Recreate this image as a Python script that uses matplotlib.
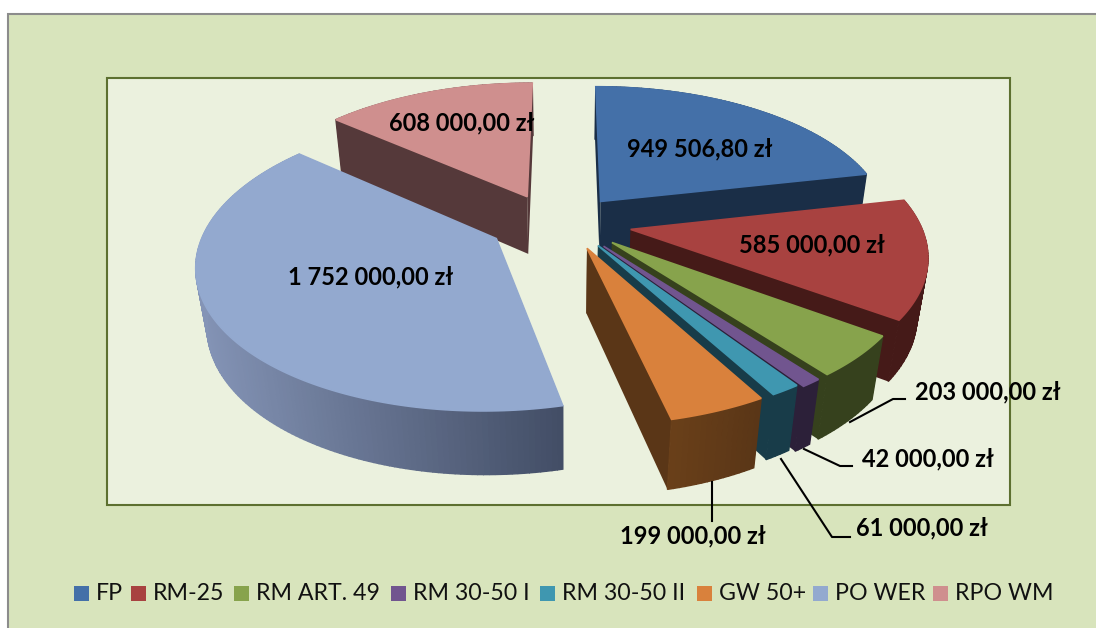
import numpy as np
import matplotlib
matplotlib.use('Agg')
import matplotlib.pyplot as plt
from matplotlib.patches import Polygon, Rectangle

plt.rcParams['font.family'] = ['Lato', 'DejaVu Sans']

categories = ['FP', 'RM-25', 'RM ART. 49', 'RM 30-50 I', 'RM 30-50 II', 'GW 50+', 'PO WER', 'RPO WM']
values = [949506.80, 585000.00, 203000.00, 42000.00, 61000.00, 199000.00, 1752000.00, 608000.00]
value_labels = ['949 506,80 zł', '585 000,00 zł', '203 000,00 zł', '42 000,00 zł',
                '61 000,00 zł', '199 000,00 zł', '1 752 000,00 zł', '608 000,00 zł']

top_colors = ['#4470a8', '#a84240', '#87a34c', '#71558f', '#3f97b0', '#d9813c', '#93a9cf', '#cf8f8e']
wall_left = ['#1a2e47', '#451a18', '#36411d', '#2c2039', '#183c49', '#6a4019', '#8494b6', '#55393a']
wall_right = ['#1a2e47', '#451a18', '#36411d', '#2c2039', '#183c49', '#5a3617', '#434e66', '#55393a']
explode = [0.19, 0.23, 0.22, 0.22, 0.21, 0.19, 0.25, 0.28]
# small per slice corrections on top of the explode
nudge_u = [0.007, 0.0, 0.0, 0.0, 0.0, 0.005, -0.02, -0.017]
nudge_v = [0.025, 0.015, 0.03, 0.03, 0.035, 0.015, 0.035, -0.045]
depth = [1.0, 1.0, 1.03, 1.03, 1.03, 1.1, 1.0, 1.0]

# back to front
draw_order = [0, 7, 1, 6, 2, 3, 4, 5]

label_pos = [(700, 149), (812, 245), (988, 392), (928, 459), (922, 528), (693, 536), (371, 277), (462, 123)]
leaders = {
    2: [(850, 422), (893, 399), (905, 399)],
    3: [(804, 449), (840, 466), (852, 466)],
    4: [(781, 459), (832, 537), (850, 537)],
    5: [(712, 482), (712, 521)],
}
legend_x = [74, 131, 234, 391, 540, 697, 813, 933]

CX, CY, A, B, H = 565, 225, 290, 140, 60
K, M = 0.16, 0.03


def project(u, v, z=0.0):
    s = 1.0 / (1.0 + K * v + M * z)
    return CX + A * u * s, CY - B * v * s + H * z * s


def mix(c1, c2, t):
    a = np.array(matplotlib.colors.to_rgb(c1))
    b = np.array(matplotlib.colors.to_rgb(c2))
    return tuple(a + (b - a) * t)


fig = plt.figure(figsize=(10.96, 6.28), dpi=100, facecolor='white')
ax = fig.add_axes([0, 0, 1, 1])
ax.set_xlim(0, 1096)
ax.set_ylim(628, 0)
ax.axis('off')

ax.add_patch(Rectangle((8, 14), 1200, 700, fc='#d8e4bc', ec='#8c8c8c', lw=1.5, zorder=0))
ax.add_patch(Rectangle((107, 78), 903, 427, fc='#ebf1de', ec='#5d7030', lw=1.5, zorder=1))

fractions = np.array(values) / sum(values)
ends = np.cumsum(fractions) * 2 * np.pi
starts = ends - fractions * 2 * np.pi

z = 2
for i in draw_order:
    t0, t1 = starts[i], ends[i]
    mid = (t0 + t1) / 2
    ou = explode[i] * np.sin(mid) + nudge_u[i]
    ov = explode[i] * np.cos(mid) + nudge_v[i]
    d = depth[i]
    th = np.linspace(t0, t1, max(int((t1 - t0) * 60), 6))
    eu = ou + np.sin(th)
    ev = ov + np.cos(th)

    # cut faces
    for t in (t0, t1):
        pts = [project(ou, ov), project(ou + np.sin(t), ov + np.cos(t)),
               project(ou + np.sin(t), ov + np.cos(t), d), project(ou, ov, d)]
        ax.add_patch(Polygon(pts, fc=wall_right[i], ec='none', zorder=z))
        z += 1

    # outer wall, one strip per step so the shade can run across it
    xs = [project(a, b)[0] for a, b in zip(eu, ev)]
    for j in range(len(th) - 1):
        pts = [project(eu[j], ev[j]), project(eu[j + 1], ev[j + 1]),
               project(eu[j + 1], ev[j + 1], d), project(eu[j], ev[j], d)]
        f = (xs[j] - min(xs)) / (max(xs) - min(xs))
        c = mix(wall_left[i], wall_right[i], f)
        ax.add_patch(Polygon(pts, fc=c, ec=c, lw=1.0, zorder=z))
    z += 1

    top = [project(ou, ov)] + [project(a, b) for a, b in zip(eu, ev)]
    ax.add_patch(Polygon(top, fc=top_colors[i], ec=top_colors[i], lw=1.2, zorder=z))
    z += 1

for i, pts in leaders.items():
    ax.plot([p[0] for p in pts], [p[1] for p in pts], color='black', lw=1.5, zorder=z)

for i, txt in enumerate(value_labels):
    ax.text(label_pos[i][0], label_pos[i][1], txt, ha='center', va='center',
            fontsize=17, fontweight='bold', color='black', zorder=z + 1)

for i, name in enumerate(categories):
    ax.add_patch(Rectangle((legend_x[i], 586), 15, 15, fc=top_colors[i], ec='none', zorder=z))
    ax.text(legend_x[i] + 22, 593, name, ha='left', va='center', fontsize=16.7, color='#111111', zorder=z)

fig.savefig('out.png', dpi=100)
